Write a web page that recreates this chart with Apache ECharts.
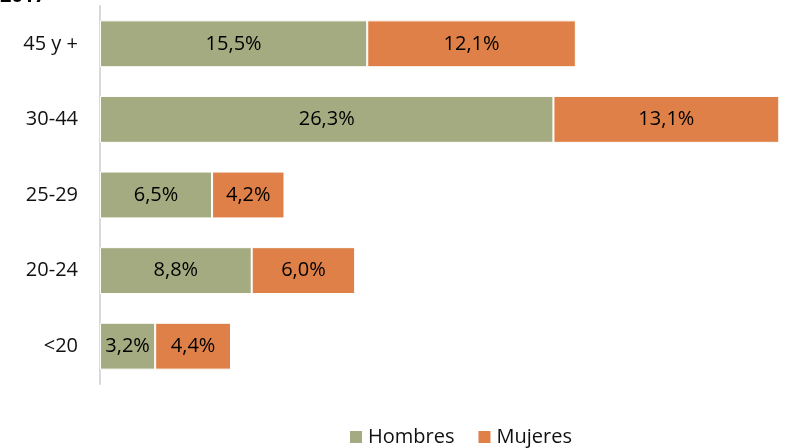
<!DOCTYPE html>
<html>
<head>
<meta charset="utf-8">
<script src="https://cdn.jsdelivr.net/npm/echarts@6/dist/echarts.min.js"></script>
<style>
  html, body { margin: 0; padding: 0; background: #fff; }
  #chart { width: 787px; height: 448px; }
</style>
</head>
<body>
<div id="chart"></div>
<script>
// ===== 数据 =====
const categories = ["<20", "20-24", "25-29", "30-44", "45 y +"];
const hombres = [3.2, 8.8, 6.5, 26.3, 15.5];
const mujeres = [4.4, 6.0, 4.2, 13.1, 12.1];

const fmt = p => p.value.toFixed(1).replace(".", ",") + "%";
const font = "'Open Sans', 'Noto Sans', sans-serif";

const chart = echarts.init(document.getElementById("chart"));

chart.setOption({
    animation: false,
    textStyle: { fontFamily: font },
    grid: { left: 100, right: 6, top: 6, bottom: 64 },
    graphic: [{
        type: "text", left: 0, top: -14,
        style: { text: "2017", font: "bold 20px " + font, fill: "#000" }
    }],
    legend: {
        bottom: -4, left: 343,
        itemWidth: 14, itemHeight: 14, itemGap: 22,
        icon: "rect",
        textStyle: { fontSize: 20, color: "#111", fontFamily: font }
    },
    xAxis: {
        type: "value", min: 0, max: 39.5,
        show: false
    },
    yAxis: {
        type: "category", data: categories,
        axisLine: { lineStyle: { color: "#d9d9d9", width: 2 } },
        axisTick: { show: false },
        axisLabel: { fontSize: 20, color: "#111", margin: 22, fontFamily: font }
    },
    series: [
        {
            name: "Hombres", type: "bar", stack: "t", barWidth: "62%",
            data: hombres,
            itemStyle: { color: "#A5AB81", borderColor: "#fff", borderWidth: 1 },
            label: { show: true, formatter: fmt, fontSize: 20, color: "#000", fontFamily: font }
        },
        {
            name: "Mujeres", type: "bar", stack: "t",
            data: mujeres,
            itemStyle: { color: "#DE8048", borderColor: "#fff", borderWidth: 1 },
            label: { show: true, formatter: fmt, fontSize: 20, color: "#000", fontFamily: font }
        }
    ]
});
</script>
</body>
</html>
